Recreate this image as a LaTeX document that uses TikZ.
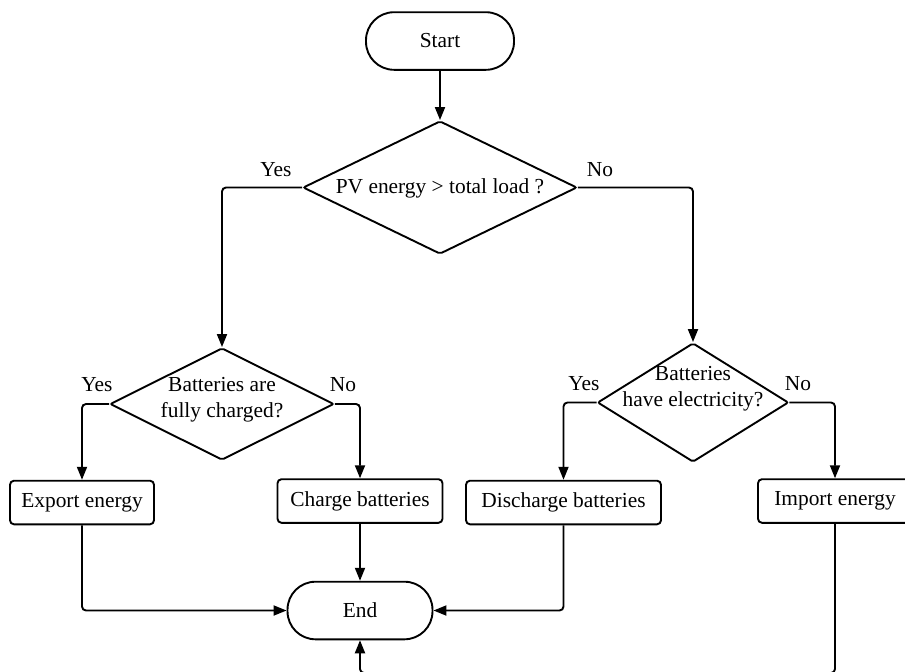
\documentclass[tikz,border=0pt]{standalone}
\usepackage{fontspec}
\setmainfont{Liberation Serif}
\usetikzlibrary{shapes.geometric,arrows.meta}

\begin{document}
\begin{tikzpicture}[x=0.5pt, y=-0.5pt, line width=0.95pt,
    font=\fontsize{10.7}{12.8}\selectfont,
    terminal/.style={draw, rectangle, rounded corners=14pt, minimum width=#1, minimum height=28.8pt, inner sep=0pt},
    process/.style={draw, rectangle, rounded corners=2pt, minimum width=#1, minimum height=21.8pt, inner sep=0pt},
    decision/.style 2 args={draw, diamond, rounded corners=1pt, inner sep=0pt, minimum width=#1, minimum height=#2},
    flow/.style={-{Triangle[length=6.5pt,width=5pt]}, rounded corners=2pt}]
  \useasboundingbox (0,0) rectangle (905,671);
  \clip (0,0) rectangle (905,671);
  % Terminals
  \node[terminal=74pt] (start) at (440,41) {Start};
  \node[terminal=72.5pt] (end) at (360,610.5) {End};
  % Decisions (text set on its own, a little above the centre)
  \node[decision={137pt}{66.5pt}] (pv) at (440,187.5) {};
  \node (pvtext) at (440,188) {PV energy > total load ?};
  \node[decision={112pt}{56pt}] (full) at (222,404) {};
  \node[align=center] (fulltext) at (222,400) {Batteries are\\fully charged?};
  \node[decision={95.5pt}{59.5pt}] (elec) at (693,402.5) {};
  \node[align=center] (electext) at (693,389) {Batteries\\have electricity?};
  % Actions
  \node[process=72pt] (export) at (82,502.5) {Export energy};
  \node[process=82.5pt] (charge) at (360,501) {Charge batteries};
  \node[process=97.5pt] (discharge) at (563.5,502.5) {Discharge batteries};
  \node[process=77pt] (import) at (835,501) {Import energy};
  \coordinate (back) at (835,673);
  % Yes / No
  \node (pvyes) at (276,170) {Yes};
  \node (pvno) at (600,170) {No};
  \node (fullyes) at (97,385) {Yes};
  \node (fullno) at (343,385) {No};
  \node (elecyes) at (584,384) {Yes};
  \node (elecno) at (798,384) {No};
  % Connectors
  \draw[flow] (start) -- (pv);
  \draw[flow] (pv.west) -| (full.north);
  \draw[flow] (pv.east) -| (elec.north);
  \draw[flow] (full.west) -| (export.north);
  \draw[flow] (full.east) -| (charge.north);
  \draw[flow] (elec.west) -| (discharge.north);
  \draw[flow] (elec.east) -| (import.north);
  \draw[flow] (export.south) |- (end.west);
  \draw[flow] (charge) -- (end);
  \draw[flow] (discharge.south) |- (end.east);
  \draw[flow] (import.south) -- (back) -| (end.south);
\end{tikzpicture}
\end{document}
